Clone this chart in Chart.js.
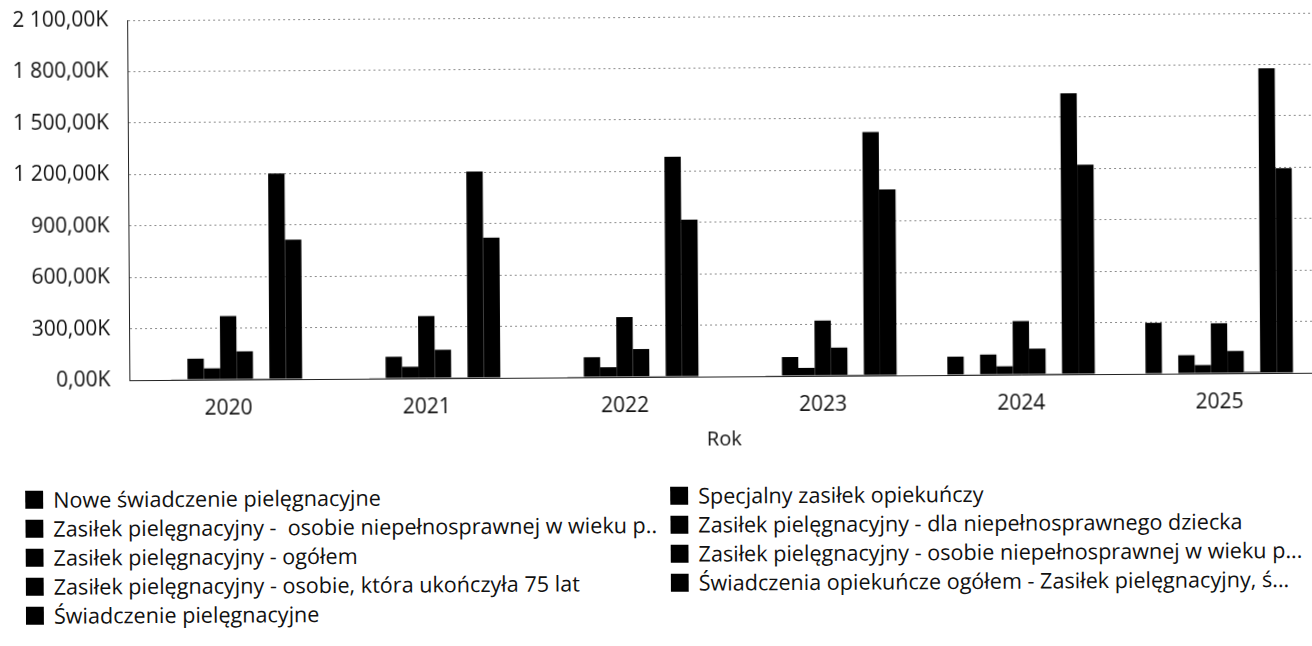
<!DOCTYPE html>
<html lang="pl">
<head>
<meta charset="utf-8">
<title>Świadczenia opiekuńcze</title>
<script src="https://cdn.jsdelivr.net/npm/chart.js@4.4.1/dist/chart.umd.min.js"></script>
<style>
  html, body { margin: 0; padding: 0; background: #fff; width: 1312px; height: 646px; overflow: hidden; }
  #page { position: absolute; left: 0; top: 0; width: 1320px; height: 646px; transform: rotate(-0.36deg); transform-origin: 0 0; }
  #chartBox { position: absolute; left: 0; top: 0; width: 1316px; height: 460px; }
  #legend {
    position: absolute; left: 22px; top: 485px;
    display: grid; grid-template-columns: 645px 645px;
    font-family: 'Open Sans', sans-serif; font-size: 21.6px; color: #111;
  }
  .item { display: flex; align-items: center; height: 29px; white-space: pre; overflow: hidden; }
  .box { width: 18px; height: 18px; background: #000; margin-right: 10px; flex: none; }
</style>
</head>
<body>
<div id="page">
  <div id="chartBox"><canvas id="rok-chart" width="1316" height="460"></canvas></div>
  <div id="legend"></div>
</div>
<script>
// lata na osi X
var years = ['2020', '2021', '2022', '2023', '2024', '2025'];

// nazwy serii (kolejność jak w legendzie)
var seriesNames = [
    'Nowe świadczenie pielęgnacyjne',
    'Specjalny zasiłek opiekuńczy',
    'Zasiłek pielęgnacyjny -  osobie niepełnosprawnej w wieku p..',
    'Zasiłek pielęgnacyjny - dla niepełnosprawnego dziecka',
    'Zasiłek pielęgnacyjny - ogółem',
    'Zasiłek pielęgnacyjny - osobie niepełnosprawnej w wieku p...',
    'Zasiłek pielęgnacyjny - osobie, która ukończyła 75 lat',
    'Świadczenia opiekuńcze ogółem - Zasiłek pielęgnacyjny, ś...',
    'Świadczenie pielęgnacyjne'
];

// wartości dla poszczególnych serii
var noweSwiadczenie   = [null, null, null, null, 107000, 297000];
var specjalnyZasilek  = [4000, 4000, 4000, 4000, 4000, 3000];
var zasilekWiekuA     = [123000, 127000, 117000, 111000, 118000, 107000];
var zasilekDziecko    = [66000, 68000, 58000, 47000, 49000, 49000];
var zasilekOgolem     = [371000, 363000, 350000, 323000, 312000, 292000];
var zasilekWiekuB     = [164000, 166000, 163000, 164000, 151000, 130000];
var zasilek75         = [5000, 5000, 5000, 6000, 5000, 8000];
var swiadczeniaOgolem = [1200000, 1204000, 1284000, 1420000, 1639000, 1777000];
var swiadczeniePiel   = [814000, 818000, 916000, 1085000, 1222000, 1194000];

var seriesValues = [noweSwiadczenie, specjalnyZasilek, zasilekWiekuA, zasilekDziecko,
    zasilekOgolem, zasilekWiekuB, zasilek75, swiadczeniaOgolem, swiadczeniePiel];

var FONT = "'Open Sans', sans-serif";

// 2100000 -> "2 100,00K"
function formatK(v) {
    var parts = (v / 1000).toFixed(2).split('.');
    return parts[0].replace(/\B(?=(\d{3})+(?!\d))/g, ' ') + ',' + parts[1] + 'K';
}

var chartData = {
    labels: years,
    datasets: seriesNames.map(function (name, i) {
        return {
            label: name,
            data: seriesValues[i],
            backgroundColor: '#000',
            borderWidth: 0
        };
    })
};

var rokChart = new Chart(document.getElementById('rok-chart'), {
    type: 'bar',
    data: chartData,
    options: {
        responsive: false,
        animation: false,
        layout: { padding: { top: 21, left: 0, right: 0, bottom: 0 } },
        datasets: { bar: { categoryPercentage: 0.744, barPercentage: 1.0 } },
        plugins: {
            legend: { display: false },
            tooltip: { enabled: false }
        },
        scales: {
            x: {
                grid: { display: false, drawTicks: false },
                border: { display: true, color: '#222', width: 1 },
                ticks: { color: '#111', font: { family: FONT, size: 21 }, padding: 16 },
                title: {
                    display: true, text: 'Rok', color: '#111',
                    font: { family: FONT, size: 20 }, padding: { top: 0, bottom: 4 }
                },
                afterFit: function (scale) { scale.height = 79; }
            },
            y: {
                min: 0,
                max: 2100000,
                ticks: {
                    stepSize: 300000,
                    callback: formatK,
                    color: '#111',
                    font: { family: FONT, size: 21 },
                    padding: 19
                },
                grid: { color: '#8c8c8c', lineWidth: 1, drawTicks: false },
                border: { display: true, color: '#222', width: 1, dash: [2, 3] },
                afterFit: function (scale) {
                    scale.width = 127;
                    // obszar wykresu ma zaczynać się od górnego marginesu
                    scale.paddingTop = 0;
                    scale.paddingBottom = 0;
                }
            }
        }
    }
});

// legenda w dwóch kolumnach
var legend = document.getElementById('legend');
seriesNames.forEach(function (name) {
    var item = document.createElement('div');
    item.className = 'item';
    var box = document.createElement('span');
    box.className = 'box';
    var txt = document.createElement('span');
    txt.textContent = name;
    item.appendChild(box);
    item.appendChild(txt);
    legend.appendChild(item);
});
</script>
</body>
</html>
